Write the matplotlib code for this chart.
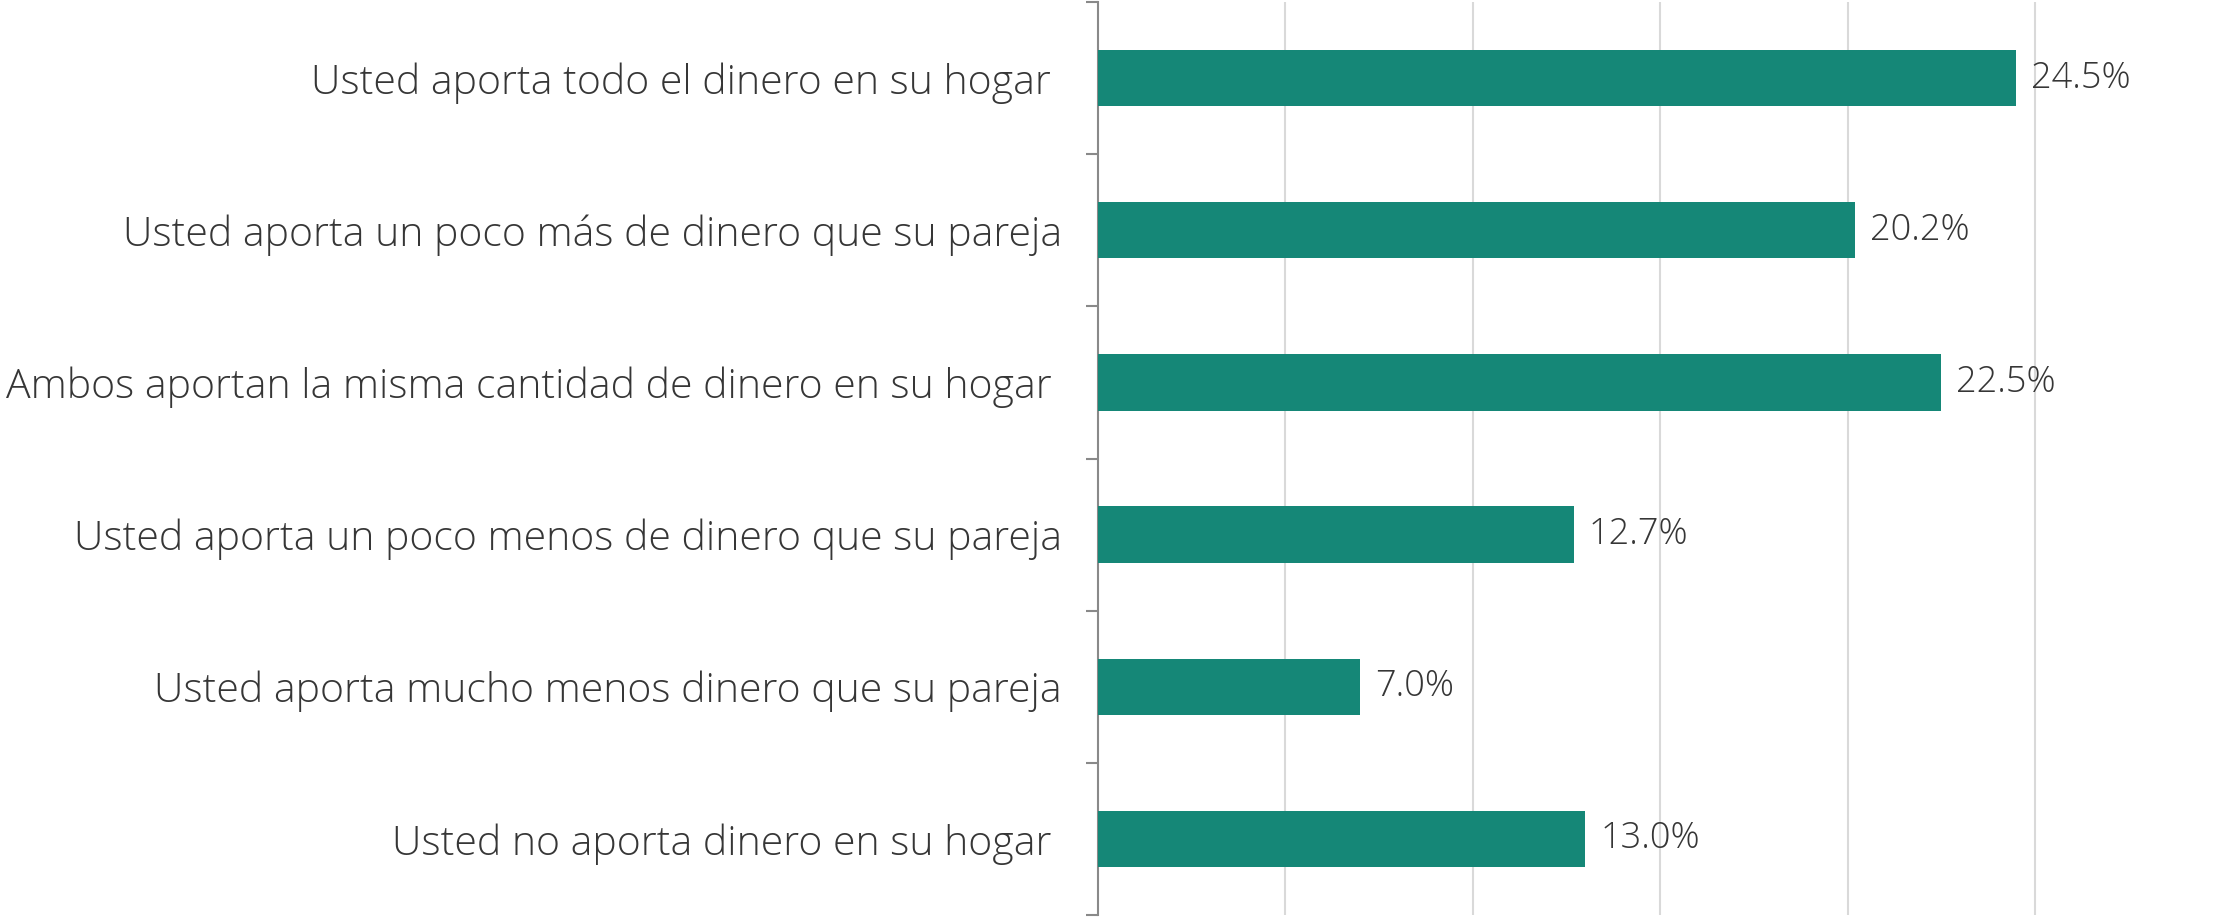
import matplotlib
matplotlib.use("Agg")
import matplotlib.pyplot as plt
import numpy as np

categories = [
    "Usted aporta todo el dinero en su hogar ",
    "Usted aporta un poco más de dinero que su pareja",
    "Ambos aportan la misma cantidad de dinero en su hogar ",
    "Usted aporta un poco menos de dinero que su pareja",
    "Usted aporta mucho menos dinero que su pareja",
    "Usted no aporta dinero en su hogar ",
]
values = [24.5, 20.2, 22.5, 12.7, 7.0, 13.0]

bar_color = "#158777"
text_color = "#363636"

plt.rcParams['font.family'] = ['Open Sans', 'DejaVu Sans']

fig = plt.figure(figsize=(22.15, 9.18), dpi=100)
ax = fig.add_axes([1098 / 2215, 3 / 918, 1 - 1098 / 2215, 913 / 918])

y = np.arange(len(categories))
ax.barh(y, values, height=0.37, color=bar_color, zorder=3)

for yi, v in zip(y, values):
    ax.text(v + 0.4, yi, f"{v:.1f}%", va="center", ha="left",
            fontsize=26, fontweight="light", color=text_color)

ax.set_xlim(0, 29.8)
ax.set_ylim(len(categories) - 0.5, -0.5)
ax.set_xticks([5, 10, 15, 20, 25])
ax.tick_params(axis="x", length=0, labelbottom=False)
ax.grid(axis="x", color="#d9d9d9", linewidth=1.5, zorder=0)

ax.set_yticks(y)
ax.set_yticklabels(categories, fontsize=29.5, fontweight="light", color=text_color)
ax.tick_params(axis="y", which="major", length=0, pad=26)
ax.set_yticks(np.arange(-0.5, len(categories)), minor=True)
ax.tick_params(axis="y", which="minor", length=8.5, width=1.5, color="#898989")

for s in ["top", "right", "bottom"]:
    ax.spines[s].set_visible(False)
ax.spines["left"].set_color("#898989")
ax.spines["left"].set_linewidth(1.5)

fig.savefig("out.png", dpi=100)
